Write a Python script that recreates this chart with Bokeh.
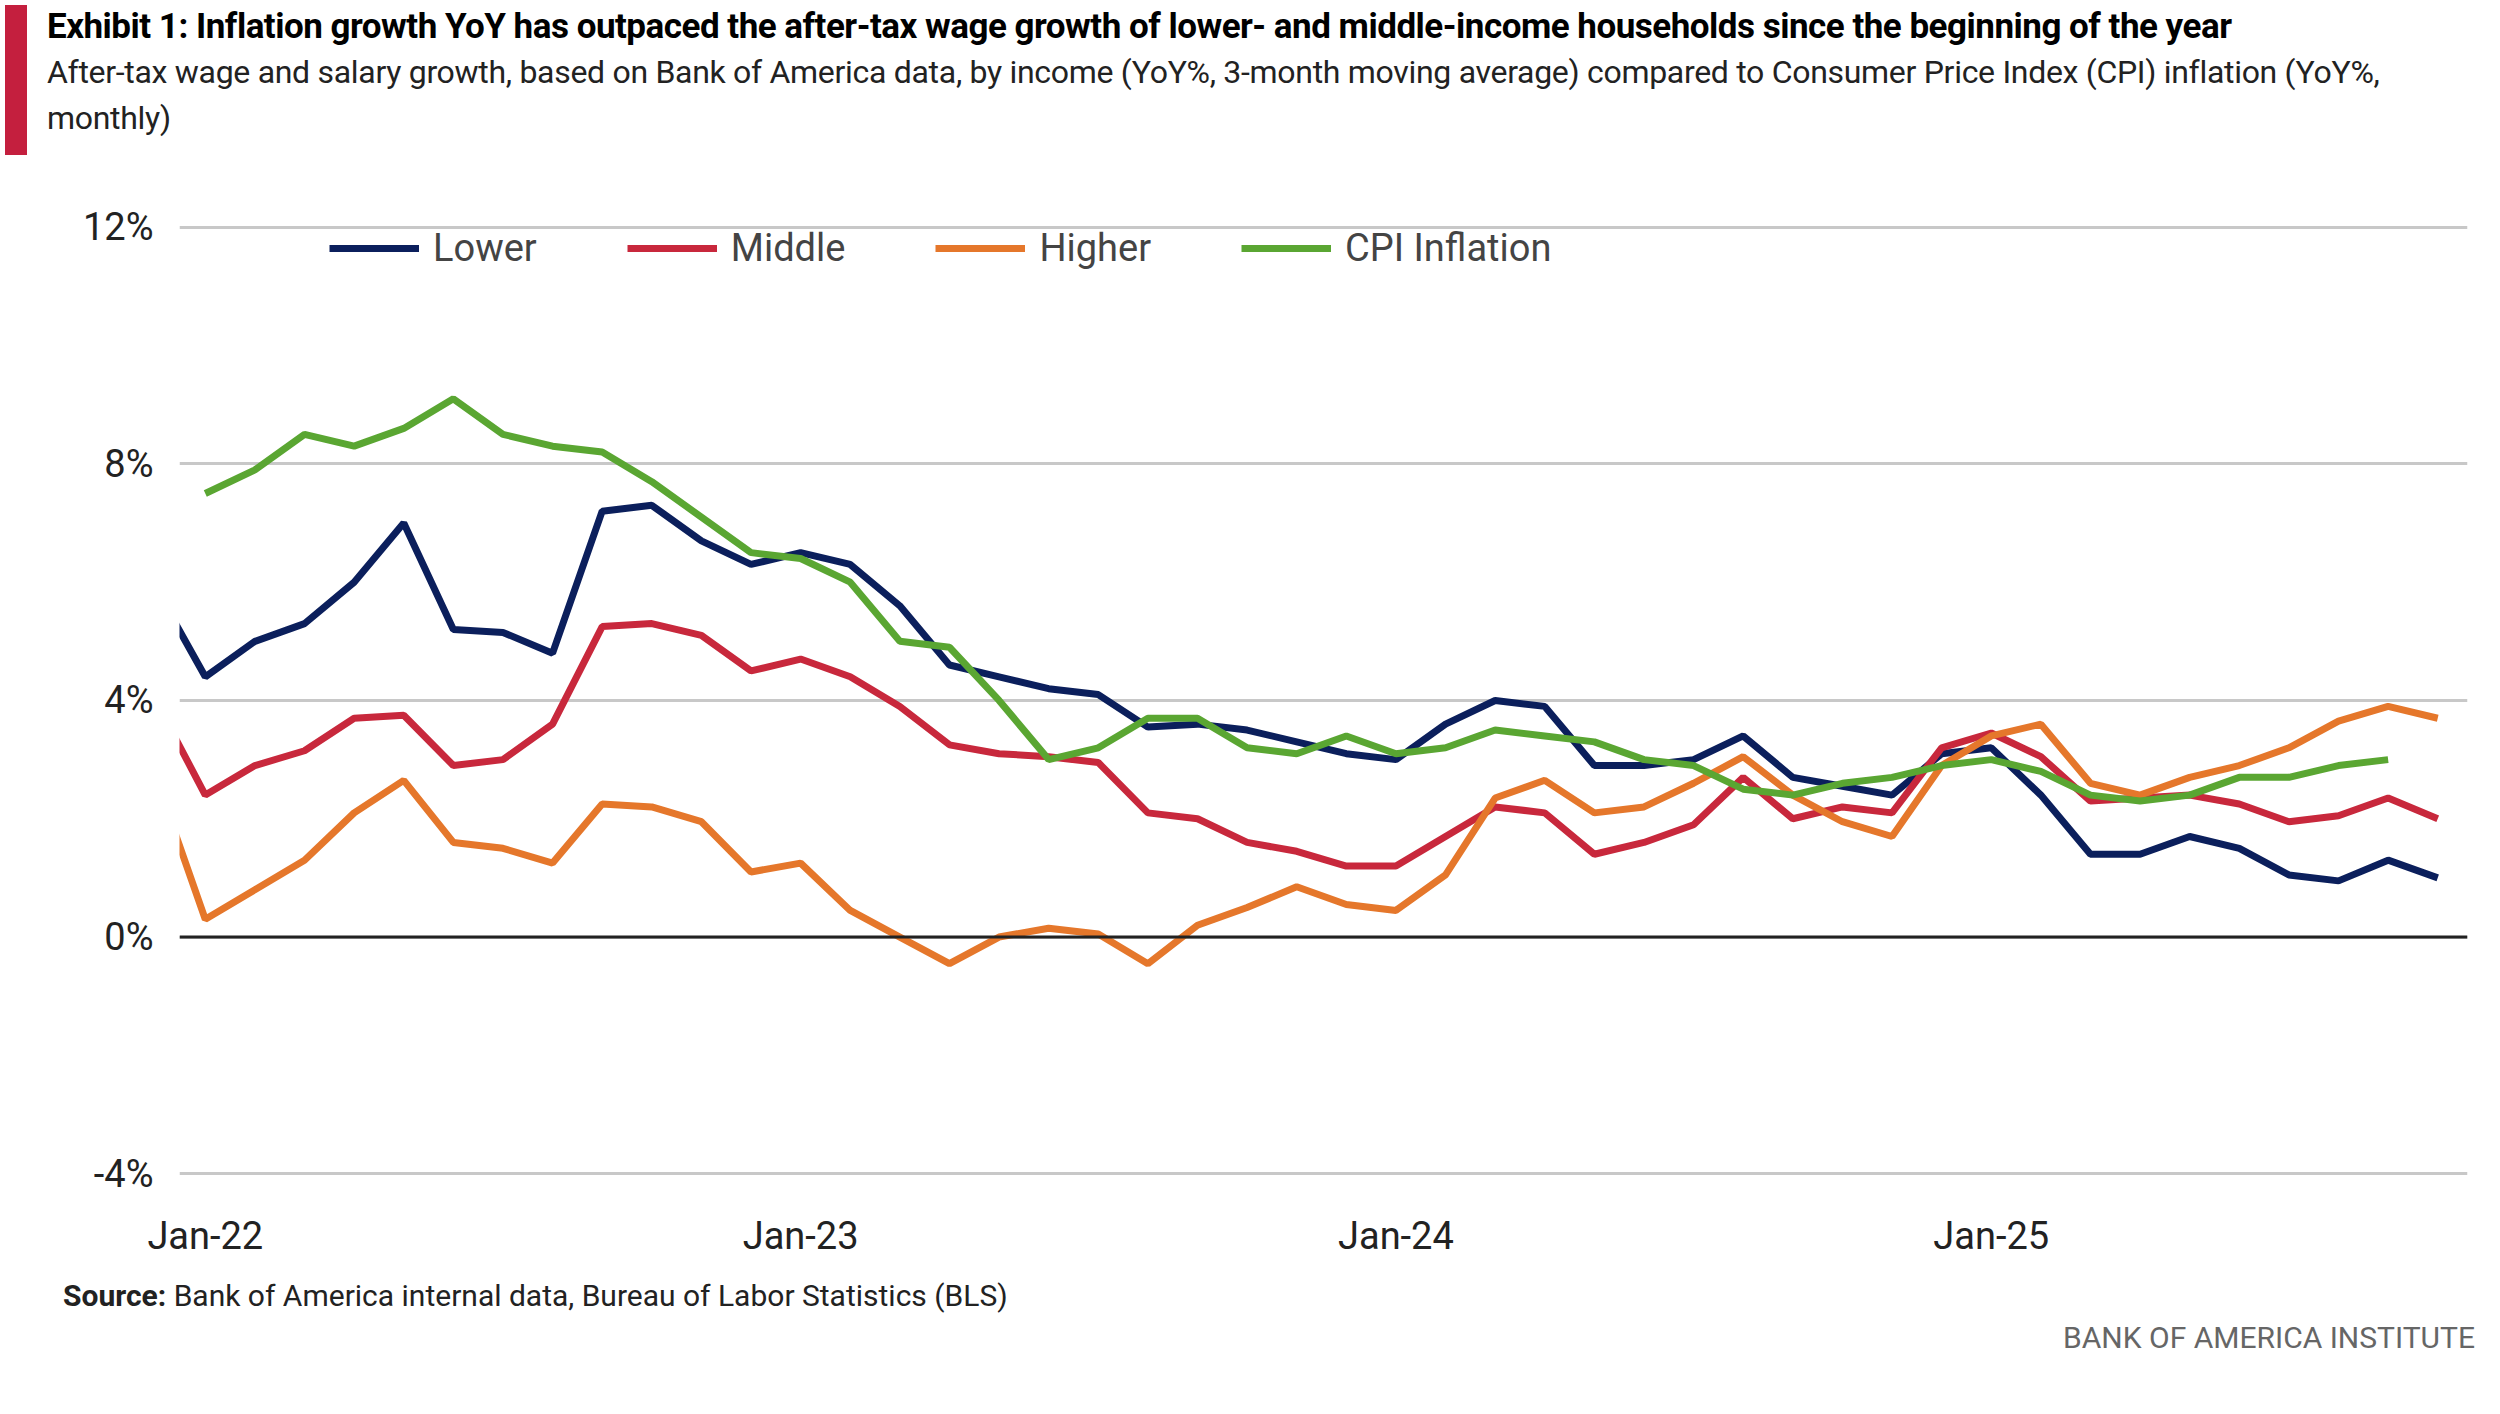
from bokeh.embed import file_html
from bokeh.resources import INLINE
from bokeh.layouts import column
from bokeh.models import Div, FixedTicker, Range1d, Legend, LegendItem, Span
from bokeh.plotting import figure

FONT = "'Liberation Sans Narrow', 'Roboto', sans-serif"

# month index: 0 = Jan-22, -1 = Dec-21
months_w = list(range(-1, 46))
months_cpi = list(range(0, 45))

lower = [5.9, 4.4, 5.0, 5.3, 6.0, 7.0, 5.2, 5.15, 4.8, 7.2, 7.3, 6.7, 6.3,
         6.5, 6.3, 5.6, 4.6, 4.4, 4.2, 4.1, 3.55, 3.6, 3.5, 3.3, 3.1,
         3.0, 3.6, 4.0, 3.9, 2.9, 2.9, 3.0, 3.4, 2.7, 2.55, 2.4, 3.1,
         3.2, 2.4, 1.4, 1.4, 1.7, 1.5, 1.05, 0.95, 1.3, 1.0]
middle = [4.0, 2.4, 2.9, 3.15, 3.7, 3.75, 2.9, 3.0, 3.6, 5.25, 5.3, 5.1, 4.5,
          4.7, 4.4, 3.9, 3.25, 3.1, 3.05, 2.95, 2.1, 2.0, 1.6, 1.45, 1.2,
          1.2, 1.7, 2.2, 2.1, 1.4, 1.6, 1.9, 2.7, 2.0, 2.2, 2.1, 3.2,
          3.45, 3.05, 2.3, 2.35, 2.4, 2.25, 1.95, 2.05, 2.35, 2.0]
higher = [2.7, 0.3, 0.8, 1.3, 2.1, 2.65, 1.6, 1.5, 1.25, 2.25, 2.2, 1.95, 1.1,
          1.25, 0.45, 0.0, -0.45, 0.0, 0.15, 0.05, -0.45, 0.2, 0.5, 0.85, 0.55,
          0.45, 1.05, 2.35, 2.65, 2.1, 2.2, 2.6, 3.05, 2.4, 1.95, 1.7, 2.9,
          3.4, 3.6, 2.6, 2.4, 2.7, 2.9, 3.2, 3.65, 3.9, 3.7]
cpi = [7.5, 7.9, 8.5, 8.3, 8.6, 9.1, 8.5, 8.3, 8.2, 7.7, 7.1, 6.5,
       6.4, 6.0, 5.0, 4.9, 4.0, 3.0, 3.2, 3.7, 3.7, 3.2, 3.1, 3.4,
       3.1, 3.2, 3.5, 3.4, 3.3, 3.0, 2.9, 2.5, 2.4, 2.6, 2.7, 2.9,
       3.0, 2.8, 2.4, 2.3, 2.4, 2.7, 2.7, 2.9, 3.0]

x_ticks = [0, 12, 24, 36]
x_labels = ["Jan-22", "Jan-23", "Jan-24", "Jan-25"]
y_ticks = [-4, 0, 4, 8, 12]

header = Div(text=f"""
<div style="border-left:22px solid #c41f3e;padding-left:20px;width:2440px;font-family:{FONT};height:150px">
<div style="font-size:35px;font-weight:bold;color:#000;line-height:44px;letter-spacing:-0.5px">Exhibit 1: Inflation growth YoY has outpaced the after-tax wage growth of lower- and middle-income households since the beginning of the year</div>
<div style="font-size:32px;color:#222;line-height:46px;letter-spacing:-0.3px">After-tax wage and salary growth, based on Bank of America data, by income (YoY%, 3-month moving average) compared to Consumer Price Index (CPI) inflation (YoY%, monthly)</div>
</div>""", width=2484, height=170)

p = figure(width=2484, height=1080, output_backend="svg", toolbar_location=None,
           x_range=Range1d(-0.52, 45.6), y_range=Range1d(-4.15, 12.2),
           min_border_left=179, min_border_right=17, min_border_top=35, min_border_bottom=10)
p.outline_line_color = None
p.xgrid.grid_line_color = None
p.ygrid.grid_line_color = "#c8c8c8"
p.ygrid.grid_line_width = 3
p.ygrid.ticker = FixedTicker(ticks=y_ticks)
p.yaxis.ticker = FixedTicker(ticks=y_ticks)
p.yaxis.major_label_overrides = {t: f"{t}%" for t in y_ticks}
p.xaxis.ticker = FixedTicker(ticks=x_ticks)
p.xaxis.major_label_overrides = dict(zip(x_ticks, x_labels))
for ax in (p.xaxis, p.yaxis):
    ax.axis_line_color = None
    ax.major_tick_line_color = None
    ax.minor_tick_line_color = None
    ax.major_label_text_font = FONT
    ax.major_label_text_font_size = "38px"
    ax.major_label_text_color = "#222"
p.yaxis.major_label_standoff = 20
p.xaxis.major_label_standoff = 25
p.add_layout(Span(location=0, dimension="width", line_color="#222", line_width=3))

r1 = p.line(months_w, lower, line_color="#0b1f5c", line_width=7)
r2 = p.line(months_w, middle, line_color="#c8283c", line_width=7)
r3 = p.line(months_w, higher, line_color="#e5772b", line_width=7)
r4 = p.line(months_cpi, cpi, line_color="#5aa632", line_width=7)

legend = Legend(items=[LegendItem(label="Lower", renderers=[r1]),
                       LegendItem(label="Middle", renderers=[r2]),
                       LegendItem(label="Higher", renderers=[r3]),
                       LegendItem(label="CPI Inflation", renderers=[r4])],
                orientation="horizontal", location=(150, 912),
                border_line_color=None, background_fill_alpha=0,
                label_text_font=FONT, label_text_font_size="38px",
                glyph_width=90, spacing=90, label_standoff=14,
                margin=0, padding=0, label_height=40, glyph_height=40)
p.add_layout(legend, "center")

footer = Div(text=f"""
<div style="width:2470px;font-family:{FONT};position:relative;height:110px">
<div style="position:absolute;left:58px;top:10px;font-size:30px;color:#222"><b>Source:</b> Bank of America internal data, Bureau of Labor Statistics (BLS)</div>
<div style="position:absolute;right:0px;top:52px;font-size:30px;color:#666">BANK OF AMERICA INSTITUTE</div>
</div>""", width=2484, height=120)

layout = column(header, p, footer)
open("out.html", "w").write(file_html(layout, INLINE))
